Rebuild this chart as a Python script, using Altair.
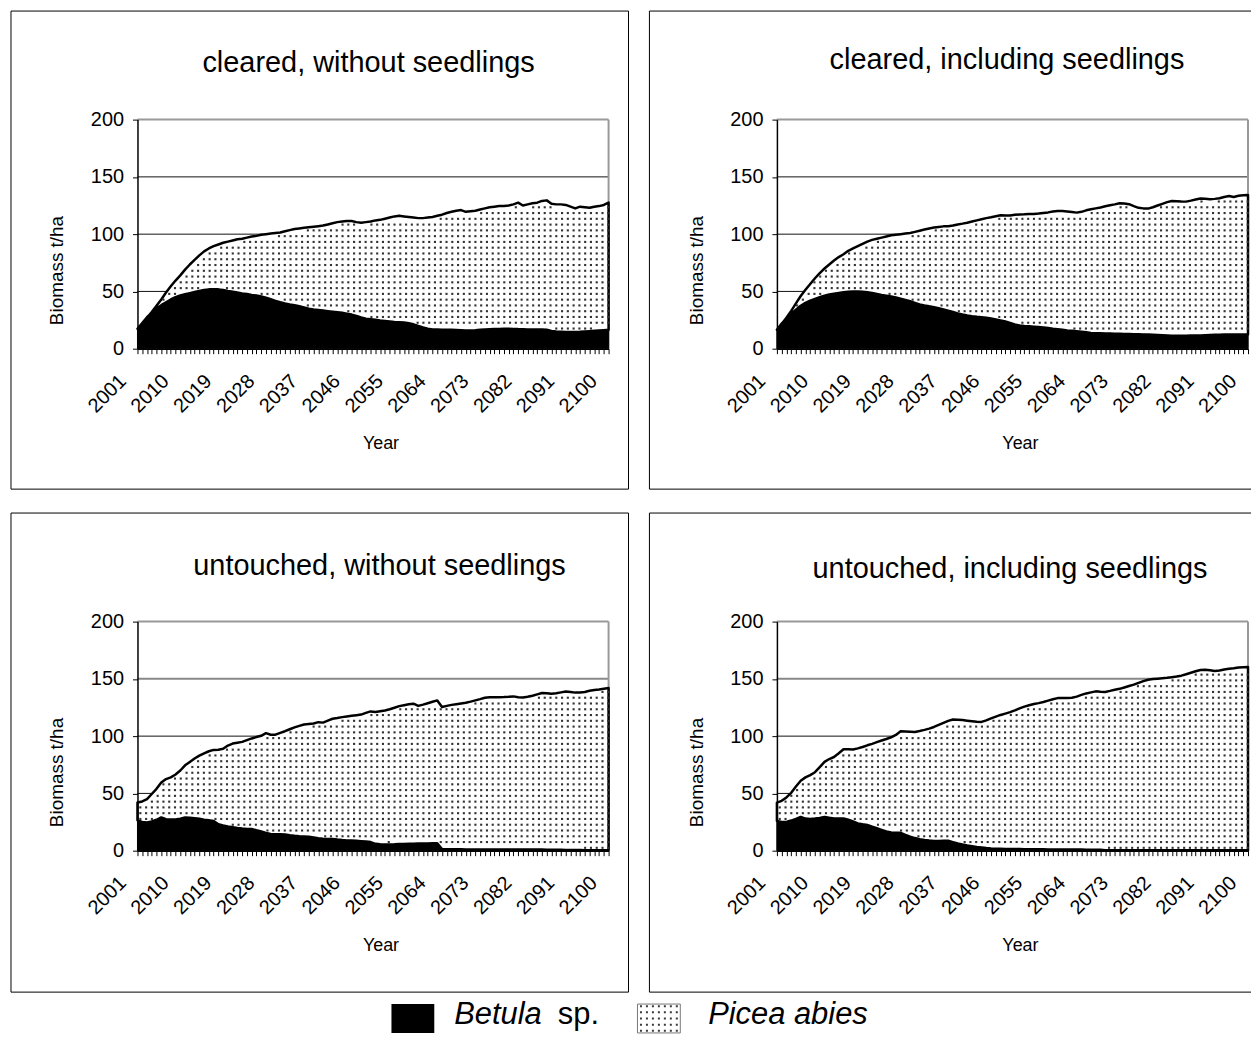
import altair as alt
import pandas as pd
import numpy as np

FONT = "Liberation Sans"
years = list(range(2001, 2101))
y_ticks = [0, 50, 100, 150, 200]
grid_values = [50, 100, 150]

# ---- cleared, without seedlings ----
betula_cleared_noseed = [
    17.4, 22.5, 27.5, 31.5, 35, 38, 40.5, 43, 45, 46.5,
    47.5, 48.5, 49.5, 50.5, 51.3, 51.8, 52, 51.8, 51.3, 50.5,
    49.8, 49, 48.3, 47.8, 47, 46.4, 45.5, 44.5, 43.2, 41.8,
    40.5, 39.5, 38.7, 38, 37, 36, 35, 34.3, 33.8, 33.3,
    32.8, 32.3, 31.8, 31.3, 30.6, 29.8, 28.5, 27.2, 26.2, 25.7,
    25.2, 24.6, 24.2, 23.8, 23.4, 23.2, 22.8, 22.2, 21.3, 19.8,
    18.5, 17.5, 16.8, 16.7, 16.6, 16.5, 16.5, 16.4, 16.2, 16,
    16, 16.2, 16.5, 16.8, 17, 17.2, 17.3, 17.4, 17.4, 17.3,
    17.1, 17, 16.8, 16.8, 16.8, 16.8, 16.5, 15.4, 15, 14.8,
    14.6, 14.5, 14.5, 14.7, 15, 15.3, 15.6, 15.9, 16.2, 16.5]
total_cleared_noseed = [
    17.4, 22, 27, 32, 37.5, 43, 49, 54.5, 59.5, 64,
    69, 73.5, 77.5, 81.5, 85, 87.5, 89.5, 91, 92.5, 93.5,
    94.5, 95.5, 96, 97, 98, 98.5, 99.5, 100, 100.5, 101,
    101.5, 102.5, 103.5, 104.5, 105, 105.5, 106, 106.5, 107, 107.5,
    108.5, 109.5, 110.5, 111, 111.5, 111.5, 110.5, 110, 110.5, 111,
    112, 112.5, 113.5, 114.5, 115.5, 116, 115.5, 115, 114.5, 114,
    114, 114.5, 115, 116, 117, 118.5, 119.5, 120.5, 121, 119.5,
    120, 120.5, 121.5, 122.5, 123.5, 124, 124.5, 124.5, 125, 126,
    127.5, 125, 126, 127, 127.5, 129, 129.5, 126.5, 126, 126,
    125.5, 124, 122.5, 124, 123.5, 123, 124, 124.5, 125.5, 127.5]

# ---- cleared, including seedlings ----
betula_cleared_seed = [
    16.5, 22, 26.5, 30.5, 34, 37.5, 40, 42, 43.5, 45,
    46.3, 47.3, 48, 48.7, 49.3, 49.7, 50, 50, 49.7, 49.3,
    48.6, 47.8, 47, 46.3, 45.5, 44.7, 43.7, 42.6, 41.4, 40,
    38.7, 37.8, 37, 36.3, 35.3, 34.3, 33.2, 32, 30.8, 29.8,
    29, 28.3, 27.8, 27.4, 27, 26.3, 25.5, 24.6, 23.7, 22.5,
    21.2, 20.2, 19.8, 19.5, 19.2, 18.9, 18.6, 18.1, 17.5, 17,
    16.5, 16, 15.6, 15.2, 14.8, 14.3, 13.8, 13.5, 13.4, 13.3,
    13.2, 13.1, 13, 12.9, 12.8, 12.7, 12.6, 12.5, 12.4, 12.2,
    12, 11.8, 11.6, 11.4, 11.3, 11.3, 11.4, 11.5, 11.6, 11.6,
    11.8, 12, 12.1, 12.2, 12.3, 12.4, 12.4, 12.5, 12.5, 12.5]
total_cleared_seed = [
    16.5, 21.5, 27, 33, 39.5, 46, 51.5, 56.5, 61.5, 66,
    70, 73.5, 77, 80, 82.5, 85.5, 87.5, 89.5, 91.5, 93.5,
    95, 96, 97, 98, 99, 99.5, 100, 100.5, 101, 102,
    103, 104, 105, 105.8, 106.3, 106.8, 107, 107.5, 108.5, 109.2,
    110, 111, 112, 113, 114, 114.8, 115.7, 116.5, 116.2, 116.3,
    117, 117.2, 117.3, 117.5, 117.7, 118, 118.5, 119, 119.8, 120.3,
    120.2, 119.8, 119.3, 118.8, 119.5, 120.8, 121.7, 122.5, 123.3, 124.3,
    125.2, 126, 127, 126.8, 126.2, 124.5, 123, 122.5, 122.3, 123.5,
    125, 126.5, 128, 129, 128.8, 128.5, 128.4, 129.3, 130.3, 131.2,
    131, 130.4, 130.8, 131.3, 132.5, 133.3, 132.5, 133.5, 134, 134.2]

# ---- untouched, without seedlings ----
betula_untouched_noseed = [
    26.5, 25, 24.7, 25.5, 27, 29, 27.5, 27.3, 27.3, 28,
    29, 28.8, 28.3, 27.8, 27, 26.5, 26, 23, 22, 21.2,
    20.5, 19.8, 19.3, 19, 18.9, 17.8, 16.8, 15.5, 14.6, 14.4,
    14.3, 14.2, 13.5, 13, 12.6, 12.4, 12.2, 11.5, 10.8, 10.5,
    10.3, 10.2, 9.7, 9.3, 9, 8.8, 8.6, 8.3, 8, 7.5,
    6, 5.6, 5.5, 5.5, 5.6, 5.8, 5.9, 6, 6.1, 6.2,
    6.3, 6.3, 6.4, 6.4, 1.5, 1.3, 1.2, 1.2, 1.2, 1.1,
    1.1, 1.1, 1.1, 1.1, 1.1, 1.1, 1.1, 1.1, 1.0, 1.0,
    1.0, 1.0, 1.0, 1.0, 1.0, 1.0, 0.9, 0.9, 0.9, 0.8,
    0.6, 0.5, 0.5, 0.5, 0.4, 0.4, 0.4, 0.4, 0.4, 0.4]
total_untouched_noseed = [
    42, 43, 45, 49.5, 54, 59.5, 62.5, 64, 66.5, 70,
    74.5, 77.5, 80.5, 83, 85, 86.8, 88, 88.2, 89, 91.8,
    93.5, 94.3, 95, 96.5, 98, 99.2, 100.3, 102.6, 101.2, 101.3,
    102.8, 104.3, 106, 107.6, 109, 110.2, 110.6, 111, 112.2, 111.8,
    113.5, 115.2, 115.8, 116.6, 117.2, 117.8, 118.3, 118.8, 120.3, 121.6,
    121, 121.7, 122.4, 123.5, 124.8, 126.2, 127, 127.8, 128.3, 126.4,
    127.5, 128.7, 130, 131.2, 125.4, 126.4, 127.3, 127.9, 128.5, 129.1,
    130.1, 131.2, 132.3, 133.5, 134, 134, 134, 134.1, 134.3, 134.7,
    134, 133.7, 134.4, 135.3, 136.5, 137.6, 137.4, 137.1, 137.4, 138.2,
    139, 138.6, 138, 138.1, 138.6, 139.6, 140.3, 140.8, 141.4, 142]

# ---- untouched, including seedlings ----
betula_untouched_seed = [
    26, 25, 25, 26.3, 27.8, 29.5, 28, 27.6, 28, 28.5,
    29.5, 28.8, 28.2, 28.2, 28.2, 27, 25.5, 23.8, 23, 22.4,
    21, 19.6, 18.2, 16.8, 15.8, 15.7, 15.6, 13.8, 12.3, 11,
    10, 9.3, 8.8, 8.4, 8.5, 8.6, 8.6, 7.5, 6.4, 5.4,
    4.5, 3.9, 3.3, 2.8, 2.3, 1.9, 1.7, 1.6, 1.5, 1.5,
    1.4, 1.4, 1.3, 1.3, 1.2, 1.2, 1.2, 1.1, 1.1, 1.1,
    1.0, 1.0, 1.0, 1.0, 1.0, 0.9, 0.9, 0.9, 0.8, 0.4,
    0.4, 0.4, 0.4, 0.4, 0.4, 0.4, 0.4, 0.4, 0.4, 0.4,
    0.3, 0.3, 0.3, 0.3, 0.3, 0.3, 0.3, 0.3, 0.3, 0.3,
    0.3, 0.3, 0.3, 0.3, 0.3, 0.3, 0.3, 0.3, 0.3, 0.3]
total_untouched_seed = [
    42, 43.5, 46.5, 50.5, 56, 61, 64, 66, 68.5, 73,
    77.5, 80, 81.8, 85, 88.5, 88.6, 88.3, 89.3, 90.5, 92,
    93.3, 94.8, 96.2, 97.5, 99, 101, 104.2, 104, 103.8, 103.6,
    104.5, 105.5, 106.6, 108, 109.8, 111.5, 113.3, 114.5, 114.3, 114,
    113.5, 113, 112.5, 112.4, 113.8, 115.5, 117, 118.5, 119.7, 121,
    122.5, 124.2, 125.8, 127, 128, 128.8, 129.8, 131, 132.2, 133.2,
    133.3, 133.4, 133.5, 134.5, 136, 137.3, 138.2, 139.1, 138.8, 138.6,
    139.5, 140.5, 141.3, 142.5, 143.8, 145, 146.5, 148, 149.2, 149.8,
    150.2, 150.6, 151, 151.5, 152, 152.8, 154, 155.3, 156.6, 157.8,
    158, 157.5, 156.8, 157.3, 158.2, 158.9, 159.3, 160, 160.2, 160.3]

titles = ["cleared, without seedlings", "cleared, including seedlings",
          "untouched, without seedlings", "untouched, including seedlings"]
legend_labels = ["Betula", "sp.", "Picea abies"]

W, H = 473, 230
deco = pd.DataFrame({"d": [0]})

x_axis = alt.Axis(values=years, labelExpr="(datum.value - 2001) % 9 == 0 ? toString(datum.value) : ''",
                  labelAngle=315, labelAlign="right", labelBaseline="middle", labelOffset=-15,
                  labelPadding=24, labelFontSize=20, labelFont=FONT, labelColor="black",
                  labelOverlap=False, labelFlush=False, labelBound=False,
                  tickSize=5, tickColor="black", tickWidth=1, domainColor="black", domainWidth=1.5,
                  grid=False, title="Year", titleFont=FONT, titleFontSize=18, titleFontWeight="normal",
                  titleColor="black", titleX=244, titleY=100, titleBaseline="alphabetic", zindex=1)
y_axis = alt.Axis(values=y_ticks, labelFontSize=20, labelFont=FONT, labelColor="black", labelPadding=9,
                  tickSize=5, tickColor="black", domainColor="black", domainWidth=1.5, grid=False,
                  title="Biomass t/ha", titleFont=FONT, titleFontSize=19, titleFontWeight="normal",
                  titleColor="black", titleX=-71, titleY=151, zindex=1)


def xenc(field="year"):
    return alt.X(f"{field}:Q", scale=alt.Scale(domain=[2001, 2100], nice=False, zero=False), axis=x_axis)


def yenc(field):
    return alt.Y(f"{field}:Q", scale=alt.Scale(domain=[0, 200], nice=False), axis=y_axis)


def dots_for(betula, total):
    # texture grid of the dotted fill, kept strictly inside the Picea band
    rows = []
    for xv in np.arange(2001.6, 2100, 1.214):
        b = np.interp(xv, years, betula)
        t = np.interp(xv, years, total)
        for yv in np.arange(2.5, 200, 5.04):
            if b + 2.0 < yv < t - 2.6:
                rows.append({"year": float(xv), "dy": float(yv)})
    return pd.DataFrame(rows)


def dot_pattern_path(nx=7, ny=5, span_y=0.62, dot=0.1):
    # small square dots laid out in the symbol's [-1, 1] box (legend swatch texture)
    parts = []
    for i in range(nx):
        for j in range(ny):
            cx = -0.9 + 1.8 / (nx - 1) * i
            cy = -span_y + 2 * span_y / (ny - 1) * j
            parts.append(f"M{cx - dot / 2:.3f},{cy - dot / 2:.3f}h{dot}v{dot}h{-dot}Z")
    return "".join(parts)


def legend_layers():
    # positions relative to the lower-left panel's plot area
    ly0, ly1 = 384, 413
    sq1 = alt.Chart(deco).mark_rect(color="black").encode(
        x=alt.value(255), x2=alt.value(298), y=alt.value(ly0), y2=alt.value(ly1))
    sq2 = alt.Chart(deco).mark_rect(fill="white", stroke="#777", strokeWidth=1).encode(
        x=alt.value(502), x2=alt.value(545), y=alt.value(ly0), y2=alt.value(ly1))
    pat = alt.Chart(deco).mark_point(shape=dot_pattern_path(), filled=True, fill="#3a3a3a",
                                     opacity=1, strokeWidth=0, size=40 * 40).encode(
        x=alt.value(523.5), y=alt.value((ly0 + ly1) / 2))
    t1 = alt.Chart(deco).mark_text(text=legend_labels[0], font=FONT, fontSize=31, fontStyle="italic",
                                   align="left", baseline="alphabetic", color="black").encode(
        x=alt.value(318), y=alt.value(404))
    t2 = alt.Chart(deco).mark_text(text=legend_labels[1], font=FONT, fontSize=31, align="left",
                                   baseline="alphabetic", color="black").encode(
        x=alt.value(422), y=alt.value(404))
    t3 = alt.Chart(deco).mark_text(text=legend_labels[2], font=FONT, fontSize=31, fontStyle="italic",
                                   align="left", baseline="alphabetic", color="black").encode(
        x=alt.value(573), y=alt.value(404))
    return [sq1, sq2, pat, t1, t2, t3]


def panel(title, betula, total, right_panel, bottom_panel, tx, ty, extra=()):
    df = pd.DataFrame({"year": years, "betula": betula, "total": total})
    gcol = ["#111", "#111", "#888" if bottom_panel else "#111"]
    gw = [1, 1, 2 if bottom_panel else 1]
    gdf = pd.DataFrame({"g": grid_values, "c": gcol, "w": gw})

    grid = alt.Chart(gdf).mark_rule().encode(
        y=yenc("g"), color=alt.Color("c:N", scale=None), strokeWidth=alt.StrokeWidth("w:Q", scale=None))
    top_border = alt.Chart(deco).mark_rule(color="#999", strokeWidth=2).encode(
        x=alt.value(0), x2=alt.value(W), y=alt.value(0))
    right_border = alt.Chart(deco).mark_rule(color="#999", strokeWidth=2).encode(
        x=alt.value(W), y=alt.value(0), y2=alt.value(H))
    bet = alt.Chart(df).mark_area(color="black", stroke="black", strokeWidth=1).encode(
        x=xenc(), y=yenc("betula"))
    pic = alt.Chart(df).mark_area(fill="white", stroke="black", strokeWidth=2.5, strokeJoin="round").encode(
        x=xenc(), y=yenc("total"), y2=alt.Y2("betula"))
    dots = alt.Chart(dots_for(betula, total)).mark_square(size=4.5, color="#333", opacity=1).encode(
        x=xenc(), y=yenc("dy"))
    ttl = alt.Chart(deco).mark_text(text=title, font=FONT, fontSize=29, align="center",
                                    baseline="alphabetic", color="black").encode(
        x=alt.value(tx), y=alt.value(ty))
    top = -109
    bottom = 371 if not bottom_panel else 372
    if not right_panel:
        frames = [alt.Chart(deco).mark_rect(fillOpacity=0, stroke="black", strokeWidth=1).encode(
            x=alt.value(-127), x2=alt.value(493), y=alt.value(top), y2=alt.value(bottom))]
    else:
        fl = alt.Chart(deco).mark_rule(color="black", strokeWidth=1).encode(
            x=alt.value(-128), y=alt.value(top), y2=alt.value(bottom))
        ft = alt.Chart(deco).mark_rule(color="black", strokeWidth=1).encode(
            x=alt.value(-128), x2=alt.value(476), y=alt.value(top))
        fb = alt.Chart(deco).mark_rule(color="black", strokeWidth=1).encode(
            x=alt.value(-128), x2=alt.value(476), y=alt.value(bottom))
        frames = [fl, ft, fb]
    return alt.layer(grid, top_border, right_border, bet, pic, dots, ttl, *frames, *extra).properties(
        width=W, height=H)


p1 = panel(titles[0], betula_cleared_noseed, total_cleared_noseed, False, False, 232, -48)
p2 = panel(titles[1], betula_cleared_seed, total_cleared_seed, True, False, 231, -51)
p3 = panel(titles[2], betula_untouched_noseed, total_untouched_noseed, False, True, 243, -47,
           extra=legend_layers())
p4 = panel(titles[3], betula_untouched_seed, total_untouched_seed, True, True, 234, -44)

chart = alt.concat(p1, p2, p3, p4, columns=2, spacing={"row": 274, "column": 169},
                   bounds="flush").properties(
    padding={"left": 2, "top": 0, "right": 0, "bottom": 0},
    background="white",
).configure_view(stroke="transparent")

chart.save("out.html", embed_options={"renderer": "svg", "actions": False})
